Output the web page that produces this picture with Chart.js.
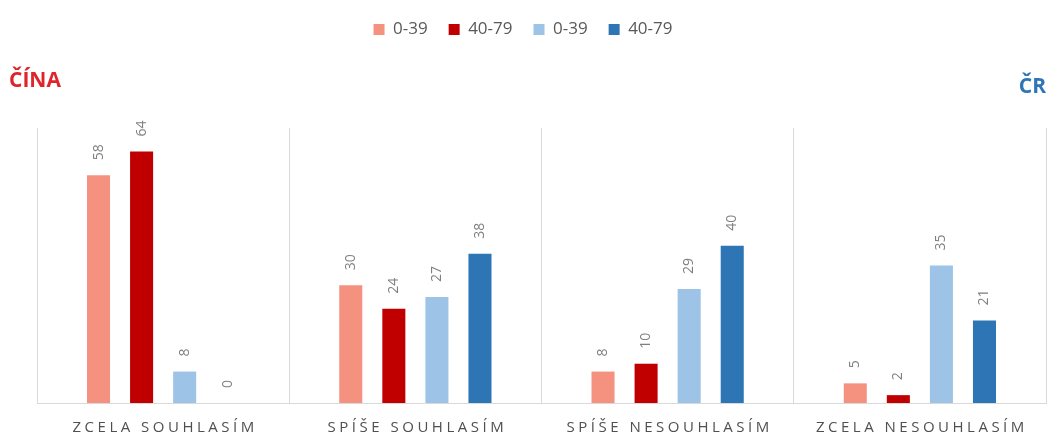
<!DOCTYPE html>
<html>
<head>
<meta charset="utf-8">
<script src="https://cdn.jsdelivr.net/npm/chart.js@4/dist/chart.umd.min.js"></script>
<style>
  html, body { margin: 0; padding: 0; background: #fff; }
  #wrap { position: relative; width: 1048px; height: 438px; }
  .side { position: absolute; font-family: "Open Sans", sans-serif; font-weight: 700; font-size: 21px; }
  #cina { left: 9px; top: 65px; color: #e0242b; }
  #cr { right: 2px; top: 71px; color: #2e75b6; }
</style>
</head>
<body>
<div id="wrap">
  <canvas id="myChart" width="1048" height="438"></canvas>
  <div class="side" id="cina">ČÍNA</div>
  <div class="side" id="cr">ČR</div>
</div>
<script>
const categories = ['ZCELA SOUHLASÍM', 'SPÍŠE SOUHLASÍM', 'SPÍŠE NESOUHLASÍM', 'ZCELA NESOUHLASÍM'];
const cinaYoung = [58, 30, 8, 5];
const cinaOld = [64, 24, 10, 2];
const crYoung = [8, 27, 29, 35];
const crOld = [0, 38, 40, 21];

// extra room under the legend
const legendSpace = {
  id: 'legendSpace',
  beforeInit(chart) {
    const fit = chart.legend.fit;
    chart.legend.fit = function () {
      fit.bind(chart.legend)();
      this.height += 80;
    };
  }
};

// rotated value labels above bars
const barValues = {
  id: 'barValues',
  afterDatasetsDraw(chart) {
    const ctx = chart.ctx;
    ctx.save();
    ctx.font = '14px "Open Sans"';
    ctx.fillStyle = '#7f7f7f';
    ctx.textAlign = 'left';
    ctx.textBaseline = 'middle';
    chart.data.datasets.forEach((ds, i) => {
      chart.getDatasetMeta(i).data.forEach((bar, j) => {
        ctx.save();
        ctx.translate(bar.x, bar.y - 15);
        ctx.rotate(-Math.PI / 2);
        ctx.fillText(ds.data[j], 0, 0);
        ctx.restore();
      });
    });
    ctx.restore();
  }
};

// spaced-out category names under the axis
const catLabels = {
  id: 'catLabels',
  afterDraw(chart) {
    const ctx = chart.ctx;
    const xs = chart.scales.x;
    ctx.save();
    ctx.font = '15px "Open Sans"';
    ctx.fillStyle = '#505050';
    ctx.letterSpacing = '3.5px';
    ctx.textAlign = 'center';
    ctx.textBaseline = 'middle';
    categories.forEach((c, i) => {
      ctx.fillText(c, xs.getPixelForTick(i) + 2, 428);
    });
    ctx.restore();
  }
};

const ctx = document.getElementById('myChart');

new Chart(ctx, {
  type: 'bar',
  data: {
    labels: categories,
    datasets: [
      { label: '0-39', data: cinaYoung, backgroundColor: '#f4927f' },
      { label: '40-79', data: cinaOld, backgroundColor: '#c00000' },
      { label: '0-39', data: crYoung, backgroundColor: '#9dc3e6' },
      { label: '40-79', data: crOld, backgroundColor: '#2e75b6' }
    ]
  },
  options: {
    responsive: false,
    animation: false,
    layout: { padding: { left: 0, right: 2, bottom: 35, top: 0 } },
    datasets: {
      bar: { categoryPercentage: 0.683, barPercentage: 0.535 }
    },
    scales: {
      x: {
        grid: { color: '#d9d9d9', drawTicks: false, offset: true },
        border: { color: '#d9d9d9' },
        ticks: { display: false }
      },
      y: {
        min: 0,
        max: 70,
        grid: { display: false },
        border: { display: false },
        ticks: { display: false },
        afterFit(scale) { scale.width = 37; }
      }
    },
    plugins: {
      legend: {
        position: 'top',
        labels: {
          boxWidth: 11,
          boxHeight: 11,
          padding: 21,
          color: '#595959',
          font: { family: '"Open Sans"', size: 17 }
        }
      },
      tooltip: { enabled: false }
    }
  },
  plugins: [legendSpace, barValues, catLabels]
});
</script>
</body>
</html>
